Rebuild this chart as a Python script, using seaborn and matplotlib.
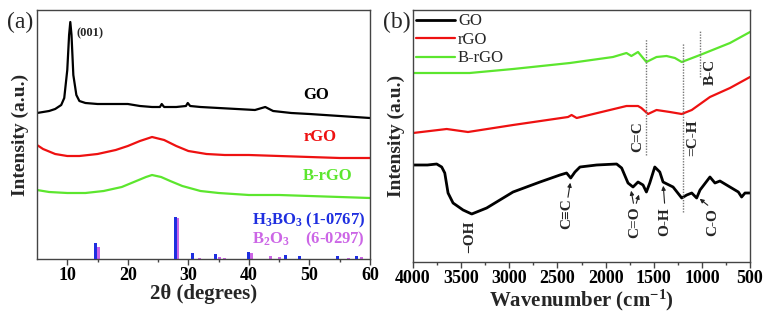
import numpy as np
import pandas as pd
import matplotlib
matplotlib.use("Agg")
import matplotlib.pyplot as plt
import seaborn as sns

# ---- (a) XRD data, 2theta in degrees, intensity in a.u. (offset) ----
go_xrd_x = [5, 6, 7, 8, 9, 9.5, 10, 10.3, 10.5, 10.7, 11, 11.5, 12, 13, 15, 18, 20, 22, 24,
            25.3, 25.6, 26, 28, 29.6, 29.9, 30.3, 32, 35, 38, 41, 42.7, 44, 47, 50, 55, 60]
go_xrd_y = [146, 147, 148, 150, 154, 161, 189, 224, 237, 224, 184, 164, 158, 156, 155, 155, 155, 153, 152,
            152, 155, 152, 152, 153, 156, 153, 152, 151, 150, 149, 152, 148, 146, 145, 143, 141]

rgo_xrd_x = [5, 6, 8, 10, 12, 15, 18, 20, 22, 24, 26, 28, 30, 33, 36, 40, 45, 50, 55, 60]
rgo_xrd_y = [114, 110, 105, 103, 103, 105, 109, 113, 118, 122, 119, 113, 108, 105, 104, 104, 103, 102, 101, 101]

brgo_xrd_x = [5, 7, 10, 13, 16, 19, 21, 23, 24, 25.5, 27, 29, 32, 35, 40, 45, 50, 55, 60]
brgo_xrd_y = [69, 67, 66, 66, 68, 72, 77, 82, 84, 82, 78, 73, 68, 66, 64, 64, 63, 62, 61]

h3bo3_pos = [14.6, 27.8, 30.7, 34.5, 39.9, 46.0, 48.4, 54.7, 57.7]
h3bo3_int = [16, 42, 6, 5, 7, 4.5, 3.5, 3, 3.5]
b2o3_pos = [15.1, 28.2, 31.8, 35.1, 35.9, 40.5, 43.6, 45.0, 56.4, 58.6]
b2o3_int = [12, 41, 1.5, 2, 1.5, 6, 3.5, 2, 1.5, 2]

xrd_ticks = [10, 20, 30, 40, 50, 60]

# ---- (b) FTIR data, wavenumber in cm-1 ----
go_ir_x = [4000, 3850, 3754, 3702, 3670, 3636, 3584, 3480, 3390, 3235, 2961, 2681, 2474, 2405, 2362,
           2318, 2266, 2093, 1885, 1833, 1767, 1715, 1663, 1611, 1576, 1541, 1489, 1437, 1403, 1299,
           1209, 1157, 1105, 1054, 1019, 916, 864, 812, 708, 621, 587, 552, 500]
go_ir_y = [97, 97, 98, 95, 89, 69, 59, 52, 48, 54, 70, 80, 87, 89, 84,
           90, 95, 97, 98, 94, 79, 75, 80, 77, 70, 79, 95, 90, 80, 75,
           64, 67, 69, 64, 72, 85, 79, 81, 75, 70, 65, 69, 69]

rgo_ir_x = [4000, 3650, 3429, 2961, 2390, 2353, 2300, 1783, 1663, 1628, 1559, 1471, 1332, 1209, 1105,
            916, 708, 500]
rgo_ir_y = [129, 133, 130, 137, 145, 147, 144, 156, 156, 154, 148, 152, 150, 148, 152,
            165, 174, 185]

brgo_ir_x = [4000, 3412, 2961, 2370, 1923, 1783, 1732, 1663, 1576, 1471, 1367, 1280, 1209, 1019,
             708, 500]
brgo_ir_y = [189, 189, 193, 199, 205, 209, 206, 210, 200, 205, 206, 204, 200, 207,
             219, 230]

ir_ticks = [4000, 3500, 3000, 2500, 2000, 1500, 1000, 500]

BLACK, RED, GREEN = "#000000", "#EE1111", "#5CE62E"
BLUE, MAGENTA = "#1F2FE0", "#CC66E6"

sns.set_style("ticks")
plt.rcParams["font.family"] = ["Liberation Serif", "DejaVu Serif"]
plt.rcParams["mathtext.default"] = "regular"
plt.rcParams["axes.edgecolor"] = "#444444"
plt.rcParams["axes.linewidth"] = 1.0

fig = plt.figure(figsize=(7.69, 3.13), dpi=100)
ax1 = fig.add_axes([37 / 769, 54 / 313, 333 / 769, 249 / 313])
ax2 = fig.add_axes([413 / 769, 51 / 313, 337 / 769, 252 / 313])

# ---------- panel (a) ----------
for xs, ys, col in [(go_xrd_x, go_xrd_y, BLACK), (rgo_xrd_x, rgo_xrd_y, RED),
                    (brgo_xrd_x, brgo_xrd_y, GREEN)]:
    df = pd.DataFrame({"x": xs, "y": ys})
    sns.lineplot(data=df, x="x", y="y", ax=ax1, color=col, lw=1.6, estimator=None)

ax1.bar(b2o3_pos, b2o3_int, width=0.5, color=MAGENTA, edgecolor="none", lw=0, zorder=2)
ax1.bar(h3bo3_pos, h3bo3_int, width=0.5, color=BLUE, edgecolor="none", lw=0, zorder=3)

ax1.set_xlim(5, 60)
ax1.set_ylim(0, 249)
ax1.set_xticks(xrd_ticks, labels=[str(t) for t in xrd_ticks], fontweight="bold")
ax1.set_xticks([15, 25, 35, 45, 55], minor=True)
ax1.set_yticks([])

bold = dict(fontweight="bold")
ax1.text(11.6, 226, "(001)", fontsize=9, va="center", ha="left", **bold)
ax1.text(51.1, 164, "GO", fontsize=12, ha="center", va="center", color=BLACK, **bold)
ax1.text(51.7, 122, "rGO", fontsize=12, ha="center", va="center", color=RED, **bold)
ax1.text(53.0, 83, "B-rGO", fontsize=12, ha="center", va="center", color=GREEN, **bold)
ax1.text(59.2, 39, "H$_3$BO$_3$ (1-0767)", fontsize=12, ha="right", va="center", color=BLUE, **bold)
ax1.text(59.2, 20, "B$_2$O$_3$    (6-0297)", fontsize=12, ha="right", va="center", color=MAGENTA, **bold)

ax1.set_xlabel("2θ (degrees)", fontsize=15, fontweight="bold", labelpad=0)
ax1.set_ylabel("Intensity (a.u.)", fontsize=14, fontweight="bold", labelpad=6)

# ---------- panel (b) ----------
for xs, ys, col, lab, lw in [(go_ir_x, go_ir_y, BLACK, "GO", 2.0), (rgo_ir_x, rgo_ir_y, RED, "rGO", 1.6),
                             (brgo_ir_x, brgo_ir_y, GREEN, "B-rGO", 1.6)]:
    df = pd.DataFrame({"x": xs, "y": ys})
    sns.lineplot(data=df, x="x", y="y", ax=ax2, color=col, lw=lw, label=lab, estimator=None)

ax2.set_xlim(4000, 500)
ax2.set_ylim(0, 252)
ax2.set_xticks(ir_ticks, labels=[str(t) for t in ir_ticks], fontweight="bold")
ax2.set_xticks([3750, 3250, 2750, 2250, 1750, 1250, 750], minor=True)
ax2.set_yticks([])

# dotted marker lines
ax2.vlines([1576, 1199, 1019], [107, 50, 185], [223, 219, 231], colors="#777777",
           linestyles=(0, (1, 1)), lw=1.0)

ax2.text(1663, 125, "C=C", rotation=90, fontsize=11, ha="center", va="center", **bold)
ax2.text(1090, 124, "=C-H", rotation=90, fontsize=11, ha="center", va="center", **bold)
ax2.text(916, 190, "B-C", rotation=90, fontsize=11, ha="center", va="center", **bold)
ax2.text(3410, 25, "−OH", rotation=90, fontsize=11, ha="center", va="center", **bold)
ax2.text(2404, 48, "C≡C", rotation=90, fontsize=11, ha="center", va="center", **bold)
ax2.text(1695, 40, "C=O", rotation=90, fontsize=11, ha="center", va="center", **bold)
ax2.text(1383, 40, "O-H", rotation=90, fontsize=11, ha="center", va="center", **bold)
ax2.text(884, 40, "C-O", rotation=90, fontsize=11, ha="center", va="center", **bold)

arrow = dict(arrowstyle="-|>", color="#222222", lw=0.8, mutation_scale=6)
ax2.annotate("", xy=(2362, 82), xytext=(2395, 62), arrowprops=arrow)
ax2.annotate("", xy=(1740, 74), xytext=(1705, 56), arrowprops=arrow)
ax2.annotate("", xy=(1645, 70), xytext=(1690, 56), arrowprops=arrow)
ax2.annotate("", xy=(1403, 79), xytext=(1385, 56), arrowprops=arrow)
ax2.annotate("", xy=(1045, 65), xytext=(916, 55), arrowprops=arrow)

ax2.legend(loc="upper left", frameon=False, fontsize=12, handlelength=2.3,
           handletextpad=0.2, labelspacing=0.15, borderaxespad=0.1, borderpad=0.1)

ax2.set_xlabel("Wavenumber (cm$^{-1}$)", fontsize=15, fontweight="bold", labelpad=0)
ax2.set_ylabel("Intensity (a.u.)", fontsize=14, fontweight="bold", labelpad=6)

for ax in (ax1, ax2):
    ax.tick_params(axis="x", which="major", direction="out", length=4, width=1,
                   labelsize=13, pad=2, colors="#444444", labelcolor="black")
    ax.tick_params(axis="x", which="minor", direction="out", length=2.5, width=1, colors="#444444")
    for s in ax.spines.values():
        s.set_visible(True)

fig.text(20 / 769, 1 - 22 / 313, "(a)", fontsize=17, ha="center", va="center")
fig.text(397 / 769, 1 - 22 / 313, "(b)", fontsize=17, ha="center", va="center")

fig.savefig("out.png", dpi=100)
